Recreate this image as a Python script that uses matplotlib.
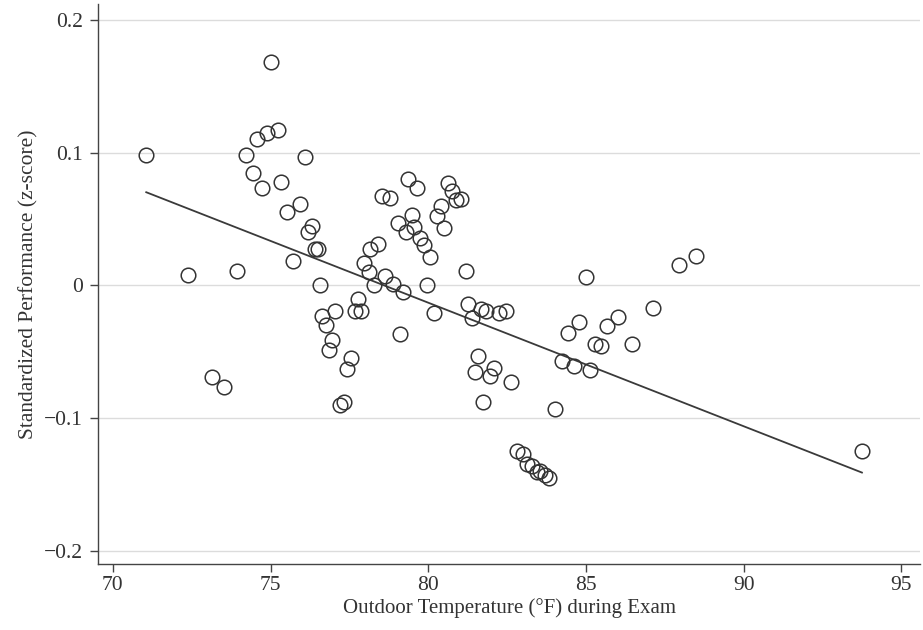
import numpy as np
import matplotlib
matplotlib.use('Agg')
import matplotlib.pyplot as plt

# Outdoor temperature (F) and standardized performance
temperature = [
    71.06, 72.39, 73.15, 73.53, 73.94, 74.23, 74.45, 74.57, 74.73, 74.88,
    75.01, 75.23, 75.33, 75.52, 75.71, 75.93, 76.09, 76.19, 76.32, 76.41,
    76.50, 76.57, 76.64, 76.77, 76.86, 76.96, 77.05, 77.21, 77.34, 77.43,
    77.56, 77.68, 77.78, 77.87, 77.97, 78.13, 78.16, 78.29, 78.41, 78.54,
    78.64, 78.80, 78.89, 79.05, 79.11, 79.21, 79.30, 79.37, 79.49, 79.55,
    79.65, 79.74, 79.87, 79.96, 80.06, 80.18, 80.28, 80.41, 80.50, 80.63,
    80.76, 80.89, 81.04, 81.20, 81.27, 81.40, 81.49, 81.59, 81.68, 81.74,
    81.84, 81.96, 82.09, 82.25, 82.47, 82.63, 82.82, 83.00, 83.13, 83.29,
    83.45, 83.55, 83.70, 83.83, 84.02, 84.24, 84.43, 84.62, 84.78, 85.00,
    85.13, 85.29, 85.48, 85.67, 86.02, 86.46, 87.13, 87.95, 88.49, 93.75,
]
performance = [
    0.098, 0.008, -0.069, -0.077, 0.011, 0.098, 0.085, 0.110, 0.073, 0.115,
    0.168, 0.117, 0.078, 0.055, 0.018, 0.061, 0.097, 0.040, 0.045, 0.027,
    0.027, 0.000, -0.023, -0.030, -0.049, -0.041, -0.019, -0.090, -0.088, -0.063,
    -0.055, -0.019, -0.010, -0.019, 0.017, 0.010, 0.027, 0.000, 0.031, 0.067,
    0.007, 0.066, 0.001, 0.047, -0.037, -0.005, 0.040, 0.080, 0.053, 0.044,
    0.073, 0.036, 0.030, 0.000, 0.021, -0.021, 0.052, 0.060, 0.043, 0.077,
    0.071, 0.064, 0.065, 0.011, -0.014, -0.025, -0.065, -0.053, -0.018, -0.088,
    -0.019, -0.068, -0.062, -0.021, -0.019, -0.073, -0.125, -0.127, -0.135, -0.136,
    -0.141, -0.140, -0.143, -0.145, -0.093, -0.057, -0.036, -0.061, -0.028, 0.006,
    -0.064, -0.044, -0.046, -0.031, -0.024, -0.044, -0.017, 0.015, 0.022, -0.125,
]

# fitted line as drawn in the source figure
fit_slope = -0.00931
fit_intercept = 0.7317

x_ticks = [70, 75, 80, 85, 90, 95]
y_ticks = [-0.2, -0.1, 0, 0.1, 0.2]
y_tick_labels = ['\u22120.2', '\u22120.1', '0', '0.1', '0.2']

plt.rcParams['font.family'] = ['Liberation Serif', 'DejaVu Serif']

fig = plt.figure(figsize=(9.23, 6.3), dpi=100)
ax = fig.add_axes([0.1065, 0.1048, 0.8902, 0.8889])

x = np.array(temperature)
y = np.array(performance)

x_fit = np.array([x.min(), x.max()])
ax.plot(x_fit, fit_slope * x_fit + fit_intercept, color='#3a3a3a', linewidth=1.3, zorder=3)

ax.plot(x, y, linestyle='none', marker='o', markersize=10.5,
        markerfacecolor='none', markeredgecolor='#333333',
        markeredgewidth=1.1, zorder=4)

ax.set_xlim(69.54, 95.59)
ax.set_ylim(-0.21, 0.212)
ax.set_xticks(x_ticks)
ax.set_yticks(y_ticks)
ax.set_yticklabels(y_tick_labels)

ax.yaxis.grid(True, color='#dcdcdc', linewidth=1.0)
ax.set_axisbelow(True)

for side in ['top', 'right']:
    ax.spines[side].set_visible(False)
for side in ['left', 'bottom']:
    ax.spines[side].set_color('#444444')
    ax.spines[side].set_linewidth(1.0)

ax.tick_params(axis='both', direction='out', length=6, width=1.0,
               colors='#444444', labelcolor='#333333', labelsize=15.5, pad=3)
ax.tick_params(axis='y', pad=5)

ax.set_xlabel('Outdoor Temperature (\u00b0F) during Exam', fontsize=15, color='#333333', labelpad=2)
ax.set_ylabel('Standardized Performance (z-score)', fontsize=15.5, color='#333333', labelpad=4)

fig.savefig('out.png', dpi=100)
